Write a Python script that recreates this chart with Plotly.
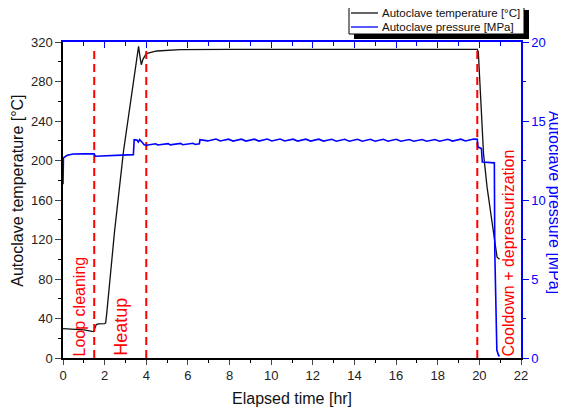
import plotly.graph_objects as go

# ---- data ----
temp_time = [0, 0.5, 1.0, 1.4, 1.47, 1.6, 1.7, 2.0, 2.05, 2.1, 2.48, 2.91, 3.3, 3.63,
             3.7, 3.76, 3.85, 4.0, 4.5, 5.63, 8.0, 12.0, 16.0, 19.9, 19.95, 20.06,
             20.12, 20.2, 20.37, 20.6, 20.85, 20.97]
temp_val = [29.8, 29.3, 28.5, 27.0, 26.8, 33.8, 34.6, 34.8, 35.5, 45, 129, 210, 269, 315.6,
            305, 297, 303, 308.2, 310.9, 312.3, 312.6, 312.6, 312.6, 312.6, 310, 264,
            240, 207, 173, 139, 102, 100]

press_time = [0, 0.02, 0.2, 0.5, 1.0, 1.5, 1.55, 1.9, 2.3, 2.83, 3.38, 3.42, 3.55, 3.62,
              3.68, 3.79, 3.9, 4.0, 4.25, 4.45, 4.55, 4.8, 5.05, 5.15, 5.4, 5.65, 5.75,
              6.0, 6.25, 6.35, 6.55, 6.58, 6.95, 7.35, 7.55, 7.95, 8.17, 8.57, 8.79,
              9.19, 9.41, 9.81, 10.03, 10.43, 10.65, 11.05, 11.27, 11.67, 11.89, 12.29,
              12.51, 12.91, 13.13, 13.53, 13.75, 14.15, 14.37, 14.77, 14.99, 15.39,
              15.61, 16.01, 16.23, 16.63, 16.85, 17.25, 17.47, 17.87, 18.09, 18.49,
              18.71, 19.11, 19.33, 19.73, 19.9, 19.93, 20.05, 20.1, 20.14, 20.72,
              20.74, 20.8, 20.84, 20.92, 20.97]
press_val = [11.0, 12.66, 12.83, 12.91, 12.92, 12.92, 12.77, 12.79, 12.85, 12.87, 12.87,
             13.82, 13.8, 13.67, 13.82, 13.67, 13.5, 13.47, 13.5, 13.56, 13.48, 13.51,
             13.57, 13.49, 13.52, 13.58, 13.5, 13.53, 13.59, 13.51, 13.55, 13.82, 13.74,
             13.86, 13.74, 13.85, 13.73, 13.85, 13.73, 13.85, 13.73, 13.86, 13.74,
             13.86, 13.74, 13.85, 13.73, 13.85, 13.73, 13.85, 13.73, 13.84, 13.72,
             13.84, 13.72, 13.84, 13.72, 13.84, 13.72, 13.84, 13.72, 13.84, 13.72,
             13.83, 13.72, 13.83, 13.72, 13.83, 13.72, 13.84, 13.73, 13.85, 13.74,
             13.86, 13.84, 13.35, 13.3, 13.25, 12.4, 12.35, 6.8, 1.5, 0.5, 0.17, 0.1]

phase_times = [1.5, 4.0, 19.9]
phase_top = 312
phase_labels = ["Loop cleaning", "Heatup", "Cooldown + depressurization"]
phase_label_x = [0.79, 2.78, 21.42]
phase_label_size = [16, 18, 16]

series_names = ["Autoclave temperature [°C]", "Autoclave pressure [MPa]"]

FONT = "Liberation Sans, Arial, sans-serif"
BLUE = "#0000ff"
RED = "#ff0000"
DARK = "#111111"

# page places the figure 8px in from the top-left (default body margin)
OFF = 8
L, T, W, H = 63, 42, 458, 316          # plot area in page pixels
FIG_W, FIG_H = 566 - OFF, 413 - OFF

def px(x):
    return (x - L) / W
def py(y):
    return (T + H - y) / H

fig = go.Figure()

fig.add_trace(go.Scatter(x=temp_time, y=temp_val, mode="lines",
                         line=dict(color=DARK, width=1.3),
                         name=series_names[0], showlegend=False))
fig.add_trace(go.Scatter(x=press_time, y=press_val, mode="lines", yaxis="y2",
                         line=dict(color=BLUE, width=1.6),
                         name=series_names[1], showlegend=False))

for t in phase_times:
    fig.add_trace(go.Scatter(x=[t, t], y=[0, phase_top], mode="lines",
                             line=dict(color=RED, width=2, dash="8px,5px"),
                             showlegend=False, hoverinfo="skip"))

# dummy trace so the top (mirrored) axis is drawn
fig.add_trace(go.Scatter(x=[None], y=[None], xaxis="x2", showlegend=False,
                         hoverinfo="skip"))

for lab, lx, fs in zip(phase_labels, phase_label_x, phase_label_size):
    fig.add_annotation(x=lx, y=0, xref="x", yref="y", text=lab, textangle=-90,
                       showarrow=False, xanchor="center", yanchor="bottom",
                       font=dict(family=FONT, size=fs, color=RED))

# axis titles
fig.add_annotation(x=px(16.7), y=py(191), xref="paper", yref="paper",
                   text="Autoclave temperature [°C]", textangle=-90, showarrow=False,
                   xanchor="center", yanchor="middle",
                   font=dict(family=FONT, size=16, color=DARK))
fig.add_annotation(x=px(555), y=py(202), xref="paper", yref="paper",
                   text="Autoclave pressure [MPa]", textangle=90, showarrow=False,
                   xanchor="center", yanchor="middle",
                   font=dict(family=FONT, size=16, color=BLUE))
fig.add_annotation(x=px(291.5), y=py(398), xref="paper", yref="paper",
                   text="Elapsed time [hr]", showarrow=False,
                   xanchor="center", yanchor="middle",
                   font=dict(family=FONT, size=16, color=DARK))

# legend (box with drop shadow, line samples and labels)
fig.add_shape(type="rect", xref="paper", yref="paper",
              x0=px(354), x1=px(529), y0=py(39), y1=py(10),
              fillcolor="black", line=dict(width=0), layer="above")
fig.add_shape(type="rect", xref="paper", yref="paper",
              x0=px(349), x1=px(524), y0=py(34), y1=py(5),
              fillcolor="white", line=dict(color="black", width=1), layer="above")
leg_colors = [DARK, BLUE]
leg_y = [13, 27]
for name, c, yy in zip(series_names, leg_colors, leg_y):
    fig.add_shape(type="line", xref="paper", yref="paper",
                  x0=px(351), x1=px(378), y0=py(yy), y1=py(yy),
                  line=dict(color=c, width=1.3), layer="above")
    fig.add_annotation(x=px(380), y=py(yy), xref="paper", yref="paper", text=name,
                       showarrow=False, xanchor="left", yanchor="middle",
                       font=dict(family=FONT, size=11.5, color=DARK))

fig.update_layout(
    width=FIG_W, height=FIG_H,
    margin=dict(l=L - OFF, r=FIG_W - (L - OFF) - W, t=T - OFF,
                b=FIG_H - (T - OFF) - H, autoexpand=False),
    paper_bgcolor="white", plot_bgcolor="white",
    font=dict(family=FONT, size=13, color="#222222"),
    showlegend=False,
    xaxis=dict(range=[0, 22], dtick=2, tick0=0, ticks="outside", ticklen=5,
               tickwidth=1.2, linecolor="black", linewidth=1.5, showline=True,
               showgrid=False, zeroline=False,
               minor=dict(dtick=1, ticks="outside", ticklen=3, tickwidth=1,
                          tickcolor="black", showgrid=False)),
    xaxis2=dict(range=[0, 22], dtick=2, tick0=0, overlaying="x", side="top",
                anchor="y", ticks="inside", ticklen=6, tickwidth=1.2,
                tickcolor=BLUE, linecolor=BLUE, linewidth=1.5, showline=True,
                showticklabels=False, showgrid=False, zeroline=False,
                minor=dict(dtick=1, ticks="inside", ticklen=4, tickwidth=1,
                           tickcolor=BLUE, showgrid=False)),
    yaxis=dict(range=[0, 320], dtick=40, tick0=0, ticks="outside", ticklen=6,
               tickwidth=1.2, linecolor="black", linewidth=1.5, showline=True,
               showgrid=False, zeroline=False,
               minor=dict(dtick=20, ticks="outside", ticklen=3, tickwidth=1,
                          tickcolor="black", showgrid=False)),
    yaxis2=dict(range=[0, 20], dtick=5, tick0=0, overlaying="y", side="right",
                ticks="outside", ticklen=6, tickwidth=1.2, tickcolor=BLUE,
                linecolor=BLUE, linewidth=1.5, showline=True,
                tickfont=dict(color=BLUE, size=13, family=FONT),
                showgrid=False, zeroline=False,
                minor=dict(dtick=2.5, ticks="outside", ticklen=3, tickwidth=1,
                           tickcolor=BLUE, showgrid=False)),
)

fig.write_html("out.html")
